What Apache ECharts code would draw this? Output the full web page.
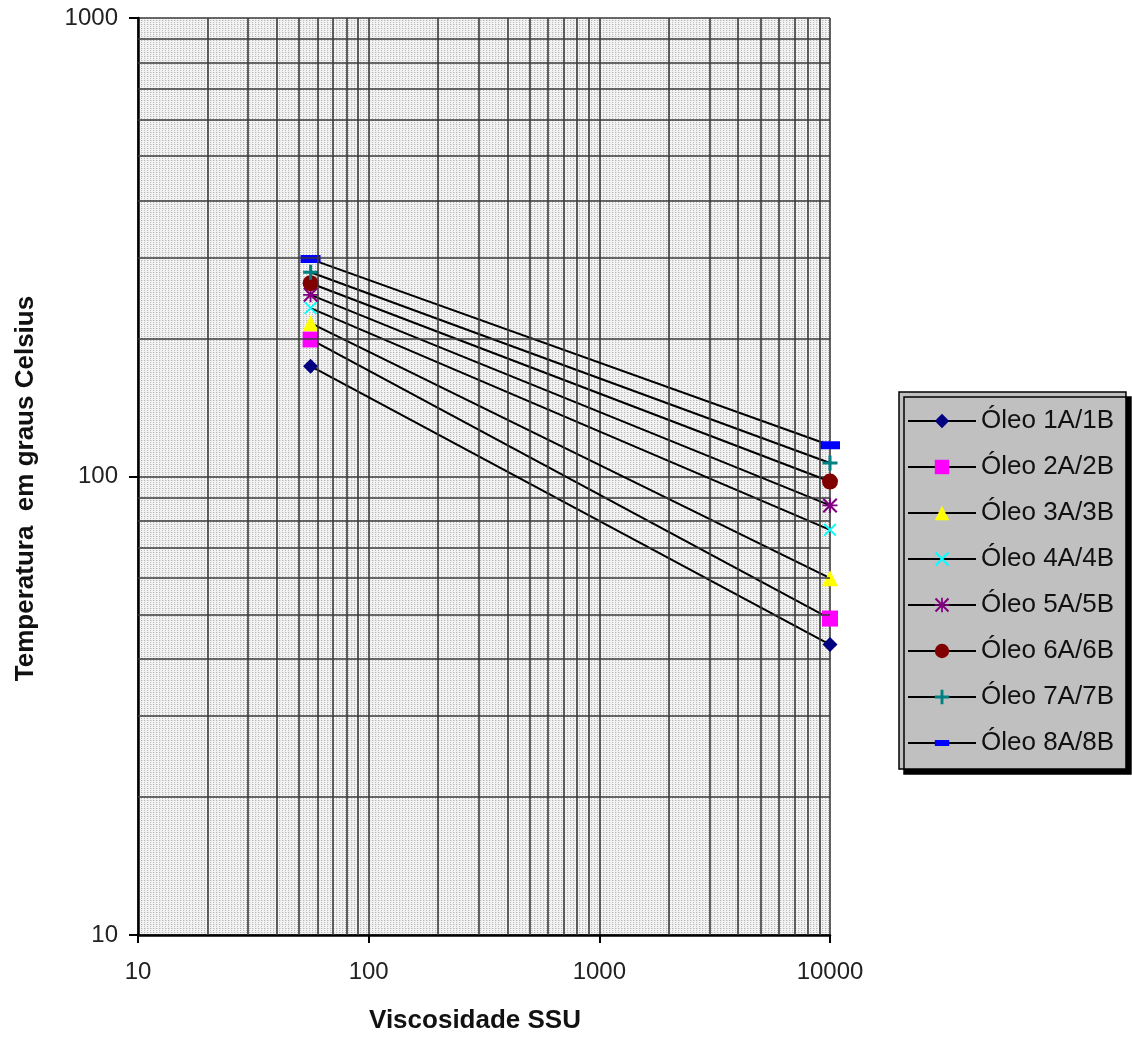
<!DOCTYPE html>
<html>
<head>
<meta charset="utf-8">
<script src="https://cdn.jsdelivr.net/npm/echarts@6/dist/echarts.min.js"></script>
<style>
html,body{margin:0;padding:0;background:#fff;}
#chart{width:1132px;height:1042px;}
</style>
</head>
<body>
<div id="chart"></div>
<script>
// ---- data ----
const viscosity = [56, 10000];
const seriesNames = ['Óleo 1A/1B','Óleo 2A/2B','Óleo 3A/3B','Óleo 4A/4B','Óleo 5A/5B','Óleo 6A/6B','Óleo 7A/7B','Óleo 8A/8B'];
const oleo1 = [174, 43];
const oleo2 = [199, 49];
const oleo3 = [216, 60];
const oleo4 = [233, 76.5];
const oleo5 = [249, 86.5];
const oleo6 = [264, 97.5];
const oleo7 = [279, 107];
const oleo8 = [298, 117];
const xTickLabels = [10, 100, 1000, 10000];
const yTickLabels = [10, 100, 1000];

const allTemps = [oleo1, oleo2, oleo3, oleo4, oleo5, oleo6, oleo7, oleo8];

// ---- styles ----
const plusPath = 'path://M4,0 H6 V4 H10 V6 H6 V10 H4 V6 H0 V4 H4 Z';
const xPath = 'path://M0,1 L1,0 L10,9 L9,10 Z M9,0 L10,1 L1,10 L0,9 Z';
const starPath = 'path://M0,4.4 H10 V5.6 H0 Z M4.4,0 H5.6 V10 H4.4 Z M0,1 L1,0 L10,9 L9,10 Z M9,0 L10,1 L1,10 L0,9 Z';
// dash inside a square bounding box (tiny corner specks define the box)
const dashPath = 'path://M0,0 L0.01,0 L0,0.01 Z M20,20 L19.99,20 L20,19.99 Z M0,6 H20 V14 H0 Z';
const markers = [
  {symbol:'diamond', size:15, color:'#000080'},
  {symbol:'rect', size:16, color:'#FF00FF'},
  {symbol:'triangle', size:16, color:'#FFFF00'},
  {symbol:xPath, size:13, color:'#00FFFF'},
  {symbol:starPath, size:15, color:'#800080'},
  {symbol:'circle', size:16, color:'#800000'},
  {symbol:plusPath, size:15, color:'#008080'},
  {symbol:dashPath, size:20, color:'#0000FF'}
];

// minor grid values
const minorX = [];
[10,100,1000].forEach(d => { for (let k=2;k<=9;k++) minorX.push(k*d); });
const minorY = [];
[10,100].forEach(d => { for (let k=2;k<=9;k++) minorY.push(k*d); });

// background pattern
const pc = document.createElement('canvas');
pc.width = 3; pc.height = 4;
const pctx = pc.getContext('2d');
pctx.fillStyle = '#f3f3f3';
pctx.fillRect(0,0,3,4);
pctx.fillStyle = '#b8b8b8';
pctx.fillRect(0,0,1,1);
pctx.fillRect(0,2,1,1);
pctx.fillStyle = '#d8d8d8';
pctx.fillRect(1,0,1,1);

const gridLineStyle = {color:'#3a3a3a', width:1.6, type:'solid'};
const FONT = 'Liberation Sans, Arial, sans-serif';

const series = [{
  type:'line', data:[], silent:true, z:1,
  markLine:{
    silent:true, symbol:'none', animation:false,
    label:{show:false},
    lineStyle:gridLineStyle,
    data: minorX.map(v => ({xAxis:v})).concat(minorY.map(v => ({yAxis:v})))
  }
}];
allTemps.forEach((t, i) => {
  series.push({
    name: seriesNames[i],
    type:'line',
    z:3,
    data: viscosity.map((x, j) => [x, t[j]]),
    symbol: markers[i].symbol,
    symbolSize: markers[i].size,
    itemStyle:{color:markers[i].color, borderWidth:0},
    lineStyle:{color:'#000', width:2},
    animation:false
  });
});

const chart = echarts.init(document.getElementById('chart'));
chart.setOption({
  backgroundColor:'#fff',
  animation:false,
  grid:{left:138, right:302, top:18, bottom:107, show:true,
        backgroundColor:{image:pc, repeat:'repeat'}, borderWidth:0},
  legend:{
    orient:'vertical', left:899, top:392,
    data: seriesNames,
    backgroundColor:'#c0c0c0', borderColor:'#000', borderWidth:1.5,
    shadowColor:'#000', shadowBlur:0, shadowOffsetX:5, shadowOffsetY:5,
    padding:[16, 12, 13, 8],
    itemWidth:68, itemHeight:18, itemGap:20,
    textStyle:{fontFamily:FONT, fontSize:26, color:'#111'}
  },
  xAxis:{
    type:'log', logBase:10, min:10, max:10000,
    name:'Viscosidade SSU', nameLocation:'middle', nameGap:73,
    nameTextStyle:{fontFamily:FONT, fontWeight:'bold', fontSize:26, color:'#111', padding:[0,18,0,0]},
    axisLine:{show:true, lineStyle:{color:'#000', width:2.5}},
    axisTick:{show:true, length:8, lineStyle:{color:'#000', width:2}},
    axisLabel:{fontFamily:FONT, fontSize:24, color:'#222', margin:25,
      formatter: v => xTickLabels.indexOf(Math.round(v)) >= 0 ? String(Math.round(v)) : ''},
    splitLine:{show:true, lineStyle:gridLineStyle},
    minorTick:{show:false}, minorSplitLine:{show:false}
  },
  yAxis:{
    type:'log', logBase:10, min:10, max:1000,
    name:'Temperatura  em graus Celsius', nameLocation:'middle', nameGap:99,
    nameTextStyle:{fontFamily:FONT, fontWeight:'bold', fontSize:26, color:'#111', padding:[0,24,0,0]},
    axisLine:{show:true, lineStyle:{color:'#000', width:2.5}},
    axisTick:{show:true, length:9, lineStyle:{color:'#000', width:2}},
    axisLabel:{fontFamily:FONT, fontSize:24, color:'#222', margin:20,
      formatter: v => yTickLabels.indexOf(Math.round(v)) >= 0 ? String(Math.round(v)) : ''},
    splitLine:{show:true, lineStyle:gridLineStyle}
  },
  series: series
});
</script>
</body>
</html>
